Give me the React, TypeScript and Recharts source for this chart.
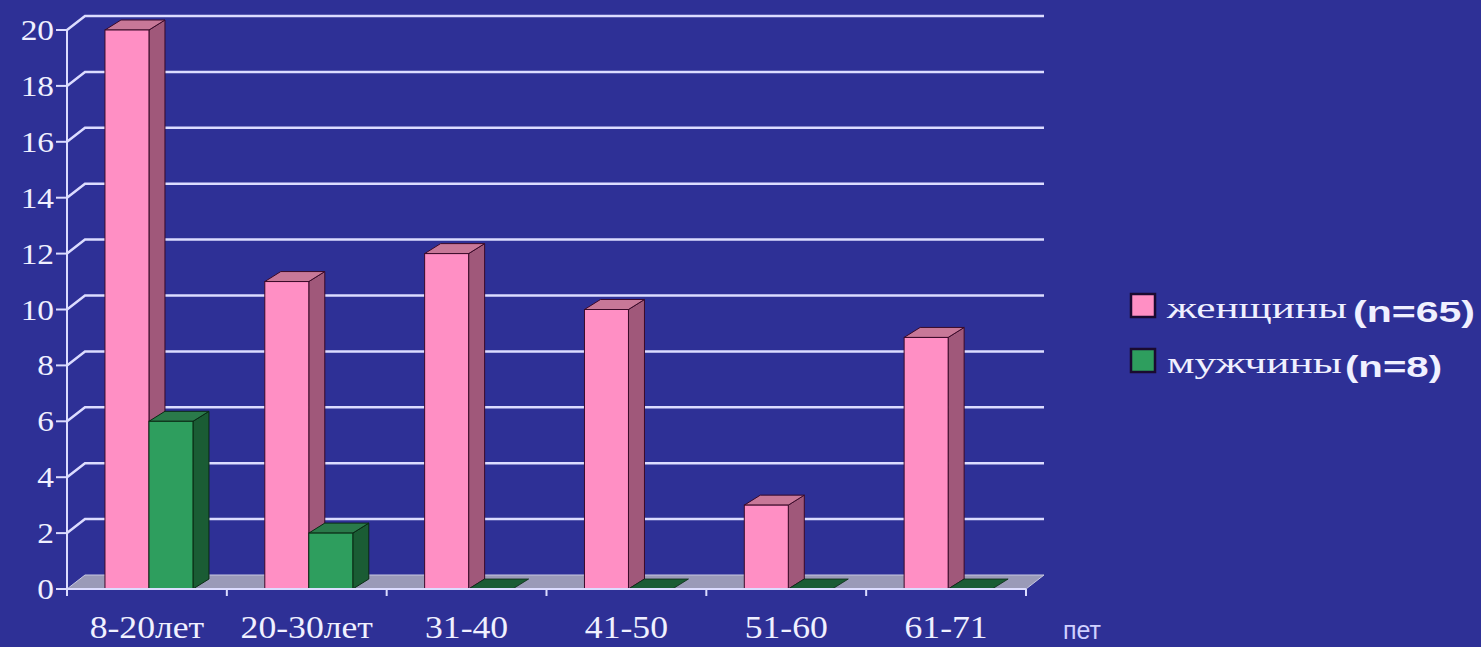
import React from "react";
import { BarChart, Bar, XAxis, YAxis, CartesianGrid } from "recharts";

const categories = ["8-20лет", "20-30лет", "31-40", "41-50", "51-60", "61-71"];
const women = [20, 11, 12, 10, 3, 9];
const men = [6, 2, 0, 0, 0, 0];
const yTicks = [0, 2, 4, 6, 8, 10, 12, 14, 16, 18, 20];
const seriesNames = ["женщины", "мужчины"];
const seriesCounts = ["(n=65)", "(n=8)"];

const data = categories.map((c, i) => ({ name: c, women: women[i], men: men[i] }));

const W = 1481;
const H = 647;
const margin = { top: 30, right: 455, bottom: 8, left: 0 };
const Y_AXIS_W = 67;
const X_AXIS_H = 50;
const PLOT_LEFT = margin.left + Y_AXIS_W;
const PLOT_RIGHT = W - margin.right;
const PLOT_BOTTOM = H - margin.bottom - X_AXIS_H;
const BAND = (PLOT_RIGHT - PLOT_LEFT) / categories.length;

const BG = "#2e3096";
const GRID = "#dcdcff";
const TEXT = "#f0f0ff";
// depth offsets for the fake 3d
const GDX = 18;
const GDY = -14;
const BDX = 16;
const BDY = -10;

const colors = {
  women: { front: "#ff8fc4", side: "#a0587a", top: "#c87898", edge: "#3a0a28" },
  men: { front: "#2e9e5e", side: "#1a5c34", top: "#2a7a4a", edge: "#0a2a14" },
};

function make3dBar(c: typeof colors.women) {
  return (props: any) => {
    const { x, y, width, height } = props;
    const x0 = x + 2;
    const h = Math.max(0, height || 0);
    const top = `${x0},${y} ${x0 + BDX},${y + BDY} ${x0 + width + BDX},${y + BDY} ${x0 + width},${y}`;
    if (h < 0.5) {
      return <polygon points={top} fill={c.side} stroke={c.edge} strokeWidth={0.8} />;
    }
    const side = `${x0 + width},${y} ${x0 + width + BDX},${y + BDY} ${x0 + width + BDX},${y + h + BDY} ${x0 + width},${y + h}`;
    return (
      <g>
        <polygon points={side} fill={c.side} stroke={c.edge} strokeWidth={1} />
        <polygon points={top} fill={c.top} stroke={c.edge} strokeWidth={1} />
        <rect x={x0} y={y} width={width} height={h} fill={c.front} stroke={c.edge} strokeWidth={1} />
      </g>
    );
  };
}

const gridLine = (props: any) => {
  const { x1, x2, y1 } = props;
  if (Math.abs(y1 - PLOT_BOTTOM) < 1) {
    const floor = `${x1},${y1} ${x1 + GDX},${y1 + GDY} ${x2 + GDX},${y1 + GDY} ${x2},${y1}`;
    return <polygon key={props.key} points={floor} fill="#9a9ab8" stroke="#c8c8e0" strokeWidth={1} />;
  }
  return (
    <path
      key={props.key}
      d={`M${x1},${y1} L${x1 + GDX},${y1 + GDY} L${x2 + GDX},${y1 + GDY}`}
      fill="none"
      stroke={GRID}
      strokeWidth={2.5}
    />
  );
};

const YTick = (props: any) => {
  const { x, y, payload } = props;
  return (
    <text
      transform={`translate(${x},${y + 10}) scale(1.15,1)`}
      textAnchor="end"
      fill={TEXT}
      fontFamily="Liberation Serif"
      fontSize={29}
    >
      {payload.value}
    </text>
  );
};

const XTick = (props: any) => {
  const { x, y, payload, index } = props;
  const last = index === categories.length - 1;
  return (
    <g>
      <line x1={x - BAND / 2} x2={x - BAND / 2} y1={y} y2={y + 7} stroke={GRID} strokeWidth={2} />
      {last && <line x1={x + BAND / 2} x2={x + BAND / 2} y1={y} y2={y + 7} stroke={GRID} strokeWidth={2} />}
      <text
        transform={`translate(${x},${y + 49}) scale(1.15,1)`}
        textAnchor="middle"
        fill={TEXT}
        fontFamily="Liberation Serif"
        fontSize={31}
      >
        {payload.value}
      </text>
    </g>
  );
};

const UnitLabel = (props: any) => {
  const { viewBox } = props;
  return (
    <text
      x={viewBox.x + viewBox.width + 37}
      y={viewBox.y + 50}
      fill="#d0d0ff"
      fontFamily="Liberation Sans"
      fontSize={25}
    >
      пет
    </text>
  );
};

function LegendBox() {
  const rows = [
    { name: seriesNames[0], count: seriesCounts[0], color: colors.women.front, y: 294, nameLen: 180, countLen: 122 },
    { name: seriesNames[1], count: seriesCounts[1], color: colors.men.front, y: 349, nameLen: 175, countLen: 97 },
  ];
  return (
    <svg width={W} height={H} style={{ position: "absolute", left: 0, top: 0, pointerEvents: "none" }}>
      {rows.map((r) => (
        <g key={r.name}>
          <rect x={1131} y={r.y} width={24} height={23} fill={r.color} stroke="#1a0a30" strokeWidth={2.5} />
          <text
            x={1167}
            y={r.y + 24}
            fill={TEXT}
            fontFamily="Liberation Serif"
            fontSize={30}
            textLength={r.nameLen}
            lengthAdjust="spacingAndGlyphs"
          >
            {r.name}
          </text>
          <text
            x={r.y < 300 ? 1353 : 1345}
            y={r.y + 28}
            fill={TEXT}
            fontFamily="Liberation Sans"
            fontWeight="bold"
            fontSize={30}
            textLength={r.countLen}
            lengthAdjust="spacingAndGlyphs"
          >
            {r.count}
          </text>
        </g>
      ))}
    </svg>
  );
}

export default function App() {
  return (
    <div style={{ position: "fixed", left: 0, top: 0, width: W, height: H, background: BG }}>
      <BarChart width={W} height={H} data={data} margin={margin} barCategoryGap="22.5%" barGap={0}>
        <CartesianGrid vertical={false} horizontal={gridLine} stroke={GRID} />
        <XAxis
          dataKey="name"
          height={X_AXIS_H}
          tickSize={0}
          tickMargin={0}
          tick={<XTick />}
          axisLine={{ stroke: GRID, strokeWidth: 2 }}
          interval={0}
          label={<UnitLabel />}
        />
        <YAxis
          width={Y_AXIS_W}
          domain={[0, 20]}
          ticks={yTicks}
          tickSize={11}
          tick={<YTick />}
          tickLine={{ stroke: GRID, strokeWidth: 2 }}
          axisLine={{ stroke: GRID, strokeWidth: 2 }}
        />
        <Bar dataKey="women" shape={make3dBar(colors.women)} isAnimationActive={false} />
        <Bar dataKey="men" shape={make3dBar(colors.men)} isAnimationActive={false} />
      </BarChart>
      <LegendBox />
    </div>
  );
}
